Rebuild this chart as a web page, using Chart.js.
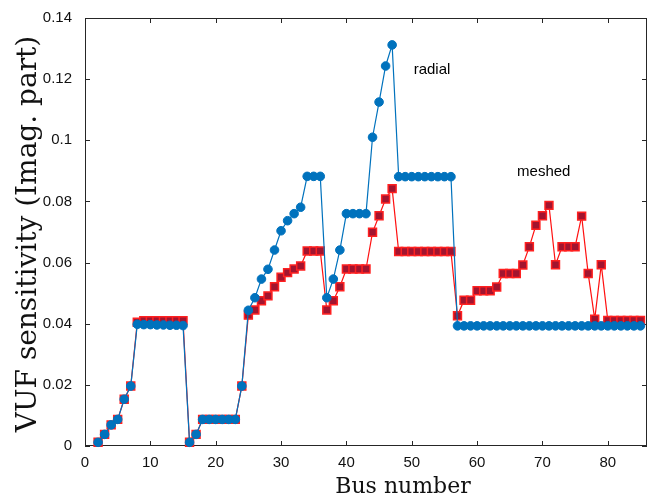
<!DOCTYPE html>
<html><head><meta charset="utf-8">
<script src="https://cdn.jsdelivr.net/npm/chart.js@4"></script>
<style>html,body{margin:0;padding:0;background:#fff}#wrap{width:648px;height:496px}</style>
</head><body><div id="wrap"><canvas id="c" width="648" height="496"></canvas></div>
<script>
const busNumbers = [2,3,4,5,6,7,8,9,10,11,12,13,14,15,16,17,18,19,20,21,22,23,24,25,26,27,28,29,30,31,32,33,34,35,36,37,38,39,40,41,42,43,44,45,46,47,48,49,50,51,52,53,54,55,56,57,58,59,60,61,62,63,64,65,66,67,68,69,70,71,72,73,74,75,76,77,78,79,80,81,82,83,84,85];
const radial = [0.0012,0.0038,0.0069,0.0087,0.0153,0.0196,
  0.0398,0.0397,0.0397,0.0396,0.0396,0.0395,0.0395,0.0394,
  0.0012,0.0038,
  0.0087,0.0087,0.0087,0.0087,0.0087,0.0087,
  0.0196,
  0.0444,0.0485,0.0546,0.0578,0.0641,0.0704,0.0737,0.0760,0.0781,
  0.0882,0.0882,0.0882,
  0.0485,0.0546,0.0641,
  0.0760,0.0760,0.0760,0.0760,
  0.1010,0.1125,0.1243,0.1312,
  0.0881,0.0881,0.0881,0.0881,0.0881,0.0881,0.0881,0.0881,0.0881,
  0.0393,0.0393,0.0393,0.0393,0.0393,0.0393,0.0393,0.0393,0.0393,0.0393,
  0.0393,0.0393,0.0393,0.0393,0.0393,0.0393,0.0393,0.0393,0.0393,0.0393,
  0.0393,0.0393,0.0393,0.0393,0.0393,0.0393,0.0393,0.0393,0.0393];
const meshed = [0.0012,0.0038,0.0069,0.0087,0.0153,0.0196,
  0.0405,0.0410,0.0410,0.0410,0.0410,0.0410,0.0410,0.0410,
  0.0012,0.0038,
  0.0087,0.0087,0.0087,0.0087,0.0087,0.0087,
  0.0196,
  0.0428,0.0445,0.0475,0.0491,0.0521,0.0552,0.0567,0.0579,0.0589,
  0.0638,0.0638,0.0638,
  0.0445,0.0475,0.0521,
  0.0579,0.0579,0.0579,0.0579,
  0.0699,0.0753,0.0808,0.0842,
  0.0636,0.0636,0.0636,0.0636,0.0636,0.0636,0.0636,0.0636,0.0636,
  0.0426,0.0477,0.0477,0.0508,0.0508,0.0508,0.0520,0.0564,0.0564,0.0564,
  0.0592,0.0652,0.0722,0.0753,0.0787,0.0593,0.0652,0.0652,0.0652,0.0752,
  0.0564,0.0415,0.0593,0.0411,0.0411,0.0411,0.0411,0.0411,0.0411];
const xTickValues = [0,10,20,30,40,50,60,70,80];
const yTickValues = [0,0.02,0.04,0.06,0.08,0.1,0.12,0.14];
const yTickLabels = ['0','0.02','0.04','0.06','0.08','0.1','0.12','0.14'];
const seriesNames = ['radial','meshed'];
const annotationX = [53.1, 70.2];
const annotationY = [0.123, 0.0896];
const xTitle = 'Bus number';
const yTitle = 'VUF sensitivity (Imag. part)';

const AXIS = '#262626';
const frame = {
  id:'frame',
  beforeDatasetsDraw(chart){
    const {ctx, chartArea:a, scales:{x,y}} = chart;
    ctx.save();
    ctx.strokeStyle = AXIS; ctx.lineWidth = 1;
    ctx.strokeRect(Math.round(a.left)+0.5, Math.round(a.top)+0.5, Math.round(a.right-a.left)-1, Math.round(a.bottom-a.top)-1);
    const L = 5;
    ctx.beginPath();
    x.ticks.forEach(t=>{const p=Math.round(x.getPixelForValue(t.value))+0.5;
      ctx.moveTo(p,a.bottom); ctx.lineTo(p,a.bottom-L); ctx.moveTo(p,a.top); ctx.lineTo(p,a.top+L);});
    y.ticks.forEach(t=>{const p=Math.round(y.getPixelForValue(t.value))+0.5;
      ctx.moveTo(a.left,p); ctx.lineTo(a.left+L,p); ctx.moveTo(a.right,p); ctx.lineTo(a.right-L,p);});
    ctx.stroke();
    ctx.restore();
  },
  afterDatasetsDraw(chart){
    const {ctx, chartArea:a, scales:{x,y}} = chart;
    ctx.save();
    ctx.fillStyle = '#000';
    ctx.font = '15px "Liberation Sans", Arial, sans-serif';
    ctx.textAlign = 'center'; ctx.textBaseline = 'middle';
    seriesNames.forEach((n,i)=>ctx.fillText(n, x.getPixelForValue(annotationX[i]), y.getPixelForValue(annotationY[i])));
    ctx.fillStyle = '#111';
    ctx.font = '22px "DejaVu Serif", serif';
    ctx.textBaseline = 'alphabetic';
    ctx.fillText(xTitle, 403, 493);
    ctx.translate(36, (a.top + a.bottom)/2 + 2);
    ctx.rotate(-Math.PI/2);
    ctx.font = '28px "DejaVu Serif", serif';
    ctx.fillText(yTitle, 0, 0);
    ctx.restore();
  }
};

new Chart(document.getElementById('c'), {
  type:'line',
  data:{
    datasets:[
      {label:seriesNames[0], data: busNumbers.map((b,i)=>({x:b,y:radial[i]})),
       borderColor:'#0072BD', backgroundColor:'#0072BD', borderWidth:1.2,
       pointStyle:'circle', pointRadius:4.3, pointBorderWidth:1, pointBorderColor:'#0072BD', pointBackgroundColor:'#0072BD',
       tension:0, clip:false},
      {label:seriesNames[1], data: busNumbers.map((b,i)=>({x:b,y:meshed[i]})),
       borderColor:'#FF1010', backgroundColor:'#A2142F', borderWidth:1.2,
       pointStyle:'rect', pointRadius:5.6, pointBorderWidth:1.5, pointBorderColor:'#FF2020', pointBackgroundColor:'#A2142F',
       tension:0, clip:false}
    ]
  },
  options:{
    responsive:false, animation:false, devicePixelRatio:1,
    layout:{autoPadding:false, padding:{top:18,right:1,left:0,bottom:0}},
    plugins:{legend:{display:false}, tooltip:{enabled:false}},
    scales:{
      x:{type:'linear', min:0, max:86,
        afterBuildTicks:s=>{s.ticks = xTickValues.map(v=>({value:v}));},
        afterFit:s=>{s.height = 50; s.paddingLeft = 0; s.paddingRight = 0;},
        grid:{display:false, drawTicks:false}, border:{display:false},
        ticks:{padding:8, color:'#111', font:{family:'"Liberation Sans", Arial, sans-serif', size:15}, maxRotation:0,
          callback:v=>String(v)},
        title:{display:false}
      },
      y:{type:'linear', min:0, max:0.14,
        afterBuildTicks:s=>{s.ticks = yTickValues.map(v=>({value:v}));},
        afterFit:s=>{s.width = 85; s.paddingTop = 0; s.paddingBottom = 0;},
        grid:{display:false, drawTicks:false}, border:{display:false},
        ticks:{padding:13, color:'#111', font:{family:'"Liberation Sans", Arial, sans-serif', size:15},
          callback:(v)=>yTickLabels[yTickValues.findIndex(t=>Math.abs(t-v)<1e-9)]},
        title:{display:false}
      }
    }
  },
  plugins:[frame]
});
</script></body></html>
